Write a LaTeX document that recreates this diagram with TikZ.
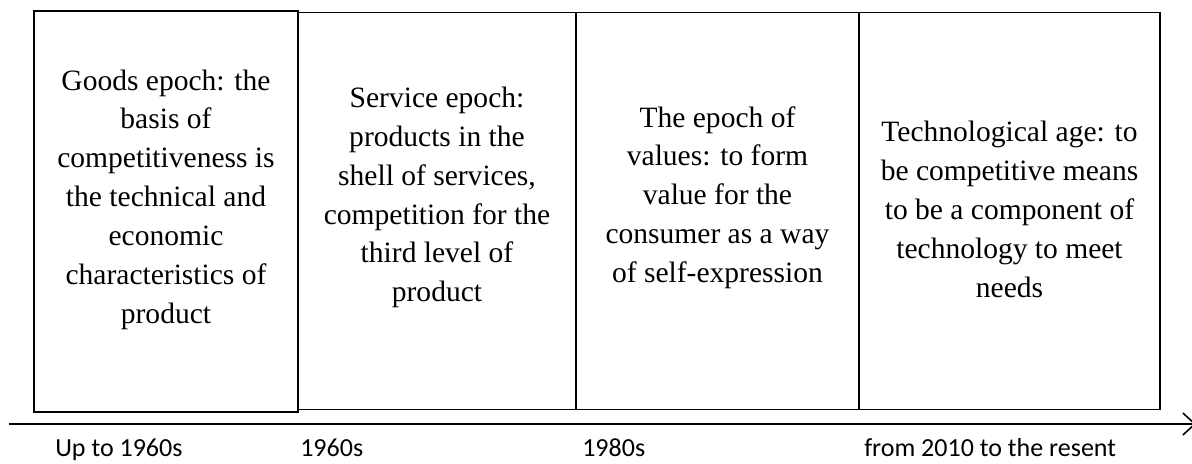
\documentclass[tikz,border=0pt]{standalone}
\usepackage{fontspec}
\setmainfont{Liberation Serif}
\newfontfamily\labelfont{Carlito}
\usetikzlibrary{arrows.meta}

\begin{document}
\begin{tikzpicture}[x=0.025cm,y=-0.025cm,
  epochbox/.style={draw,line width=1.4pt,inner sep=0pt},
  epochtext/.style={align=center,font=\fontsize{21}{27.6}\selectfont,inner sep=0pt},
  datelabel/.style={anchor=base west,font=\labelfont\fontsize{18.5}{22}\selectfont,inner sep=0pt}]
\useasboundingbox (0,0) rectangle (1192,463);
% epochs
\node[epochbox,minimum width=264*0.025cm,minimum height=401*0.025cm] (goods) at (166,211.8) {};
\node[epochbox,minimum width=278*0.025cm,minimum height=397*0.025cm] (service) at (437,211) {};
\node[epochbox,minimum width=283*0.025cm,minimum height=397*0.025cm] (values) at (717.5,211) {};
\node[epochbox,minimum width=301*0.025cm,minimum height=397*0.025cm] (tech) at (1009.5,211) {};
% texts
\node[epochtext] (goodstext) at (166,199.5) {Goods epoch: the\\basis of\\competitiveness is\\the technical and\\economic\\characteristics of\\product};
\node[epochtext] (servicetext) at (437,197.5) {Service epoch:\\products in the\\shell of services,\\competition for the\\third level of\\product};
\node[epochtext] (valuestext) at (717.5,197.5) {The epoch of\\values: to form\\value for the\\consumer as a way\\of self-expression};
\node[epochtext] (techtext) at (1009.5,209.5) {Technological age: to\\be competitive means\\to be a component of\\technology to meet\\needs};
% time axis
\coordinate (t0) at (8.5,424);
\coordinate (t1) at (1196,424);
\draw[line width=1.3pt,-{Straight Barb[length=8.5pt,width=15.6pt,line width=1.1pt]}] (t0) -- (t1);
% dates
\node[datelabel] (d1) at (55,456) {Up to 1960s};
\node[datelabel] (d2) at (300,456) {1960s};
\node[datelabel] (d3) at (582,456) {1980s};
\node[datelabel] (d4) at (864,456) {from 2010 to the resent};
\end{tikzpicture}
\end{document}
